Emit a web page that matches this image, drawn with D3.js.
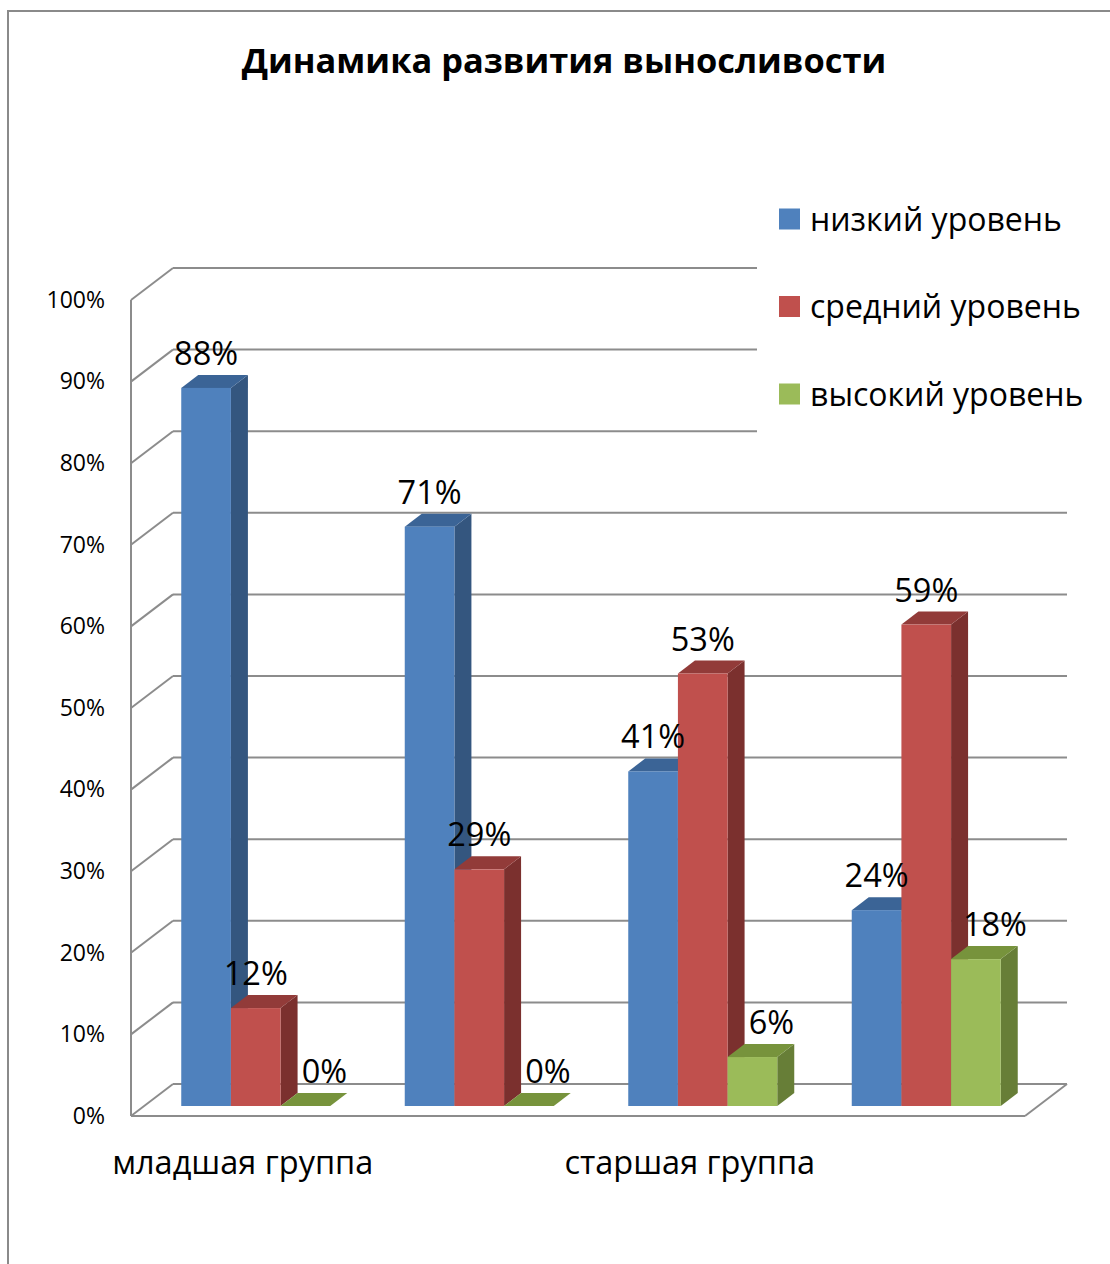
<!DOCTYPE html>
<html lang="ru">
<head>
<meta charset="utf-8">
<title>Динамика развития выносливости</title>
<script src="https://cdn.jsdelivr.net/npm/d3@7"></script>
<style>
  html, body { margin: 0; padding: 0; background: #fff; }
  svg { display: block; font-family: "Open Sans", "Noto Sans", sans-serif; }
</style>
</head>
<body>
<svg id="chart" width="1110" height="1264"></svg>
<script>
// Chart data
const title = "Динамика развития выносливости";
const categories = ["младшая группа", "", "старшая группа", ""];
const seriesNames = ["низкий уровень", "средний уровень", "высокий уровень"];
const lowLevel = [88, 71, 41, 24];
const midLevel = [12, 29, 53, 59];
const highLevel = [0, 0, 6, 18];
const yTickValues = [0, 10, 20, 30, 40, 50, 60, 70, 80, 90, 100];

const seriesValues = [lowLevel, midLevel, highLevel];

// Face colours per series: front, top, side
const palette = [
  { front: "#4F81BD", top: "#3B6496", side: "#34567F" },
  { front: "#C0504D", top: "#923B39", side: "#7B302E" },
  { front: "#9BBB59", top: "#77933C", side: "#677E37" }
];
const gridColor = "#8c8c8c";

const svg = d3.select("#chart");

// Outer chart frame
svg.append("rect")
  .attr("x", 8).attr("y", 11)
  .attr("width", 1130).attr("height", 1290)
  .attr("fill", "#fff")
  .attr("stroke", "#8a8a8a").attr("stroke-width", 2);

// 3D plot geometry: front plane, wall depth and bar placement along depth
const plot = { x0: 131, x1: 1025, base: 1116, height: 816 };
const wall = { dx: 42, dy: 32 };
const barOffset = { dx: 13, dy: 10 };
const barDepth = { dx: 17, dy: 13 };

const x = d3.scaleBand()
  .domain(d3.range(categories.length))
  .range([plot.x0, plot.x1])
  .padding(0);

const xs = d3.scaleBand()
  .domain(d3.range(seriesNames.length))
  .range([0, x.bandwidth()])
  .paddingInner(0)
  .paddingOuter(0.75);

const h = d3.scaleLinear().domain([0, 100]).range([0, plot.height]);
const yFront = d3.scaleLinear().domain([0, 100]).range([plot.base, plot.base - plot.height]);

// Walls and gridlines
const grid = svg.append("g")
  .attr("stroke", gridColor)
  .attr("stroke-width", 2)
  .attr("fill", "none");

grid.selectAll("line.back")
  .data(yTickValues)
  .join("line")
  .attr("class", "back")
  .attr("x1", plot.x0 + wall.dx)
  .attr("x2", plot.x1 + wall.dx)
  .attr("y1", d => yFront(d) - wall.dy)
  .attr("y2", d => yFront(d) - wall.dy);

grid.selectAll("line.side")
  .data(yTickValues)
  .join("line")
  .attr("class", "side")
  .attr("x1", plot.x0)
  .attr("x2", plot.x0 + wall.dx)
  .attr("y1", d => yFront(d))
  .attr("y2", d => yFront(d) - wall.dy);

grid.append("line")
  .attr("x1", plot.x0).attr("x2", plot.x0)
  .attr("y1", yFront(100)).attr("y2", yFront(0));

grid.append("line")
  .attr("x1", plot.x0).attr("x2", plot.x1)
  .attr("y1", yFront(0)).attr("y2", yFront(0));

grid.append("line")
  .attr("x1", plot.x1).attr("x2", plot.x1 + wall.dx)
  .attr("y1", yFront(0)).attr("y2", yFront(0) - wall.dy);

// Legend panel sits over the upper gridlines
const legend = svg.append("g");
legend.append("rect")
  .attr("x", 757).attr("y", 175)
  .attr("width", 360).attr("height", 265)
  .attr("fill", "#fff");

const legendItems = legend.selectAll("g.item")
  .data(seriesNames)
  .join("g")
  .attr("class", "item")
  .attr("transform", (d, i) => `translate(779, ${219 + i * 87.5})`);

legendItems.append("rect")
  .attr("x", 0).attr("y", -10.5)
  .attr("width", 21).attr("height", 21)
  .attr("fill", (d, i) => palette[i].front);

legendItems.append("text")
  .attr("x", 31).attr("y", 0)
  .attr("dy", "0.36em")
  .attr("font-size", 32)
  .attr("fill", "#000")
  .text(d => d);

// Bars, drawn left to right so each front face covers its neighbour's side
const bars = [];
categories.forEach((c, ci) => {
  seriesValues.forEach((vals, si) => {
    bars.push({ ci, si, value: vals[ci] });
  });
});

const barG = svg.append("g");
bars.forEach(b => {
  const x0 = x(b.ci) + xs(b.si) + barOffset.dx;
  const w = xs.bandwidth();
  const base = plot.base - barOffset.dy;
  const top = base - h(b.value);
  const col = palette[b.si];
  const g = barG.append("g");

  g.append("polygon")
    .attr("points", [
      [x0 + w, top], [x0 + w + barDepth.dx, top - barDepth.dy],
      [x0 + w + barDepth.dx, base - barDepth.dy], [x0 + w, base]
    ].map(p => p.join(",")).join(" "))
    .attr("fill", col.side);

  g.append("polygon")
    .attr("points", [
      [x0, top], [x0 + w, top],
      [x0 + w + barDepth.dx, top - barDepth.dy], [x0 + barDepth.dx, top - barDepth.dy]
    ].map(p => p.join(",")).join(" "))
    .attr("fill", col.top);

  g.append("rect")
    .attr("x", x0).attr("y", top)
    .attr("width", w).attr("height", h(b.value))
    .attr("fill", col.front);
});

// Value labels above each bar
const labelShift = [0, 0, 19];
svg.append("g")
  .selectAll("text")
  .data(bars)
  .join("text")
  .attr("x", d => x(d.ci) + xs(d.si) + barOffset.dx + xs.bandwidth() / 2 + labelShift[d.si])
  .attr("y", d => plot.base - barOffset.dy - h(d.value) - barDepth.dy - 10)
  .attr("text-anchor", "middle")
  .attr("font-size", 32.5)
  .attr("fill", "#000")
  .text(d => d3.format("d")(d.value) + "%");

// Value axis labels on the front plane
const yAxis = d3.axisLeft(yFront)
  .tickValues(yTickValues)
  .tickFormat(d => d + "%")
  .tickSize(0)
  .tickPadding(0);

const yAxisG = svg.append("g")
  .attr("transform", "translate(105,0)")
  .call(yAxis);
yAxisG.select(".domain").remove();
yAxisG.selectAll("text")
  .attr("font-family", "\"Open Sans\", \"Noto Sans\", sans-serif")
  .attr("font-size", 23)
  .attr("fill", "#000");

// Category axis
const xAxis = d3.axisBottom(x)
  .tickFormat(i => categories[i])
  .tickSize(0)
  .tickPadding(0);

const xAxisG = svg.append("g")
  .attr("transform", `translate(0, ${plot.base})`)
  .call(xAxis);
xAxisG.select(".domain").remove();
xAxisG.selectAll("text")
  .attr("y", 58)
  .attr("dy", 0)
  .attr("font-family", "\"Open Sans\", \"Noto Sans\", sans-serif")
  .attr("font-size", 32.5)
  .attr("fill", "#000");

// Title
svg.append("text")
  .attr("x", 564)
  .attr("y", 73)
  .attr("text-anchor", "middle")
  .attr("font-size", 34.4)
  .attr("font-weight", "bold")
  .attr("fill", "#000")
  .text(title);
</script>
</body>
</html>
